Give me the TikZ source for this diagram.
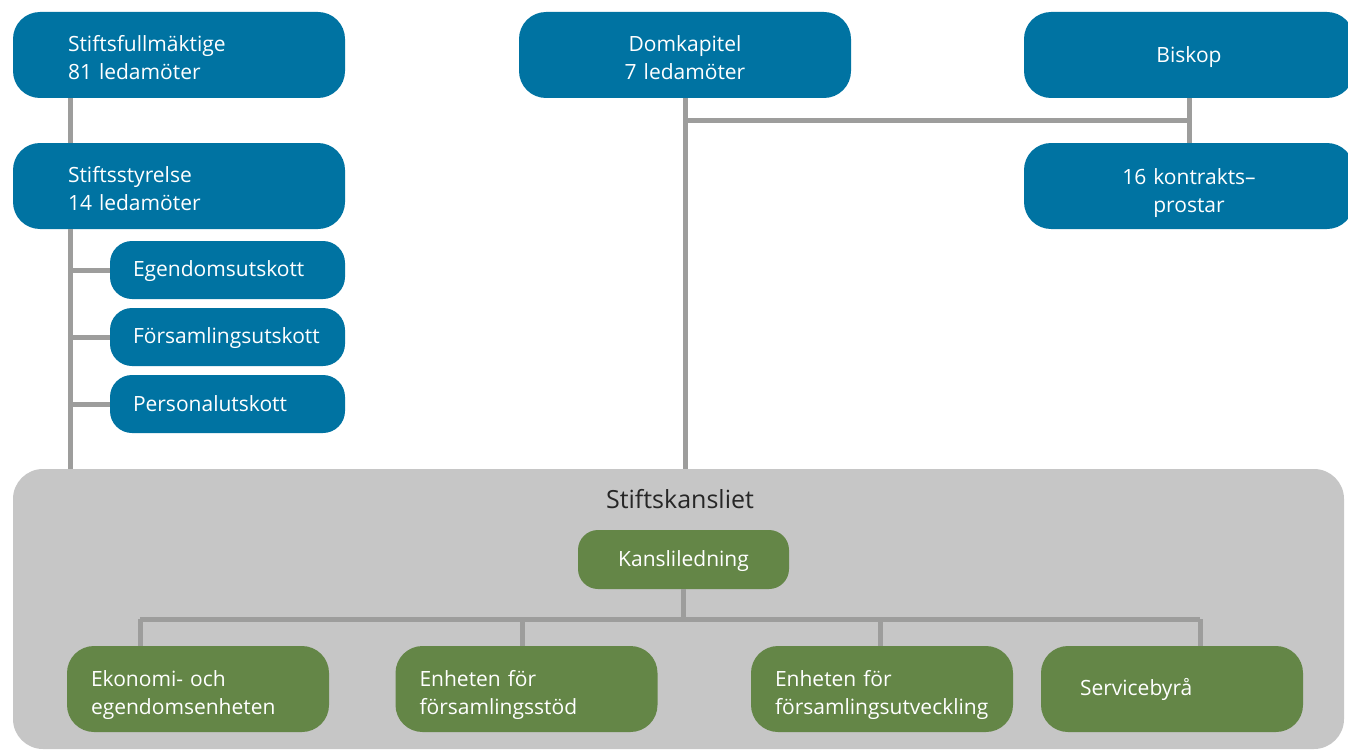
\documentclass[tikz,border=0pt]{standalone}
\usepackage{fontspec}
\setmainfont{Open Sans}
\definecolor{kblue}{RGB}{0,115,162}
\definecolor{kgreen}{RGB}{100,134,71}
\definecolor{kpanel}{RGB}{198,198,198}
\definecolor{kline}{RGB}{157,157,156}
\begin{document}
\begin{tikzpicture}[x=0.5pt,y=-0.5pt]
\tikzstyle{every node}+=[inner sep=0pt, font=\fontsize{10.5}{14}\selectfont]
\tikzstyle{bigbox}=[rectangle, rounded corners=13.5pt, fill=kblue, text=white, minimum height=43pt, text height=11pt]
\tikzstyle{smallbox}=[rectangle, rounded corners=11pt, fill=kblue, text=white, minimum height=29pt, align=left, text width=94.5pt, inner xsep=11.5pt, text height=9.5pt]
\tikzstyle{greenbox}=[rectangle, rounded corners=13.5pt, fill=kgreen, text=white, minimum height=43pt, align=left, text width=107pt, inner xsep=12pt, text height=14pt]
\tikzstyle{link}=[kline, line width=2.5pt]
\useasboundingbox (0,0) rectangle (1348,749);
\clip (0,0) rectangle (1348,749);
\node [bigbox, align=left, text width=111pt, inner xsep=27.5pt] (stfm) at (179,55) {Stiftsfullmäktige\\81 ledamöter};
\node [bigbox, align=left, text width=111pt, inner xsep=27.5pt] (ststy) at (179,186) {Stiftsstyrelse\\14 ledamöter};
\node [smallbox] (egen) at (227.5,270) {Egendomsutskott};
\node [smallbox] (fors) at (227.5,337) {Församlingsutskott};
\node [smallbox, text height=8pt] (pers) at (227.5,404) {Personalutskott};
\node [bigbox, align=center, text width=166pt] (domk) at (685,55) {Domkapitel\\7 ledamöter};
\node [bigbox, align=center, text width=165pt, text height=10pt] (bisk) at (1189,55) {Biskop};
\node [bigbox, align=center, text width=165pt, text height=15pt] (kprost) at (1189,186) {16 kontrakts--\\prostar};
\node [rectangle, rounded corners=15pt, fill=kpanel, minimum width=665.5pt, minimum height=140pt] (kansliet) at (678.5,609) {};
\node [text=black!85, font=\fontsize{12.5}{15}\selectfont] (kanstitle) at (680,499) {Stiftskansliet};
\node [rectangle, rounded corners=10pt, fill=kgreen, text=white, minimum width=105.5pt, minimum height=29.5pt, text height=10pt] (kansl) at (683.5,559.5) {Kansliledning};
\node [greenbox] (ekon) at (198,689) {Ekonomi- och\\egendomsenheten};
\node [greenbox] (fstod) at (526.5,689) {Enheten för\\församlingsstöd};
\node [greenbox] (futv) at (882,689) {Enheten för\\församlingsutveckling};
\node [greenbox, text width=92pt, inner xsep=19.5pt, text height=9pt] (serv) at (1172,689) {Servicebyrå};
\coordinate (lx) at (70,0);
\coordinate (j) at (1189,121);
\coordinate (d1) at (140,619);
\coordinate (d2) at (522,619);
\coordinate (d3) at (880,619);
\coordinate (d4) at (1200,619);
\draw [link] (stfm.south -| lx) -- (ststy.north -| lx);
\draw [link] (ststy.south -| lx) -- (kansliet.north -| lx);
\draw [link] (egen.west -| lx) -- (egen.west);
\draw [link] (fors.west -| lx) -- (fors.west);
\draw [link] (pers.west -| lx) -- (pers.west);
\draw [link] (domk) -- (domk |- kansliet.north);
\draw [link] (domk |- j) -- (j);
\draw [link] (bisk) -- (kprost);
\draw [link] (kansl) -- (kansl |- d1);
\draw [link] (d1) -- (d4);
\draw [link] (d1) -- (d1 |- ekon.north);
\draw [link] (d2) -- (d2 |- fstod.north);
\draw [link] (d3) -- (d3 |- futv.north);
\draw [link] (d4) -- (d4 |- serv.north);
\end{tikzpicture}
\end{document}
